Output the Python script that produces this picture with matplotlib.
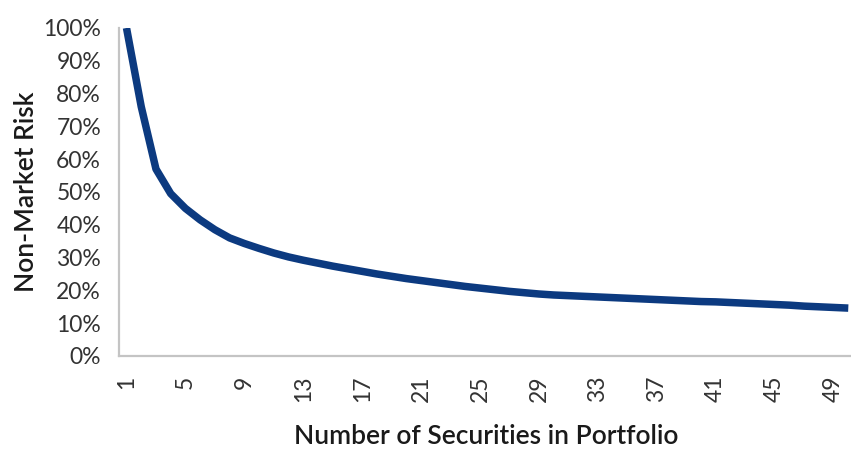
import matplotlib
matplotlib.use("Agg")
import matplotlib.pyplot as plt
from matplotlib.ticker import FuncFormatter

securities = list(range(1, 51))
risk_pct = [100, 76, 57, 49.5, 45, 41.5, 38.5, 36, 34.3, 32.8,
            31.4, 30.2, 29.2, 28.3, 27.4, 26.6, 25.8, 25.0, 24.3, 23.6,
            23.0, 22.4, 21.8, 21.2, 20.7, 20.2, 19.7, 19.3, 18.9, 18.6,
            18.4, 18.2, 18.0, 17.8, 17.6, 17.4, 17.2, 17.0, 16.8, 16.6,
            16.5, 16.3, 16.1, 15.9, 15.7, 15.5, 15.2, 15.0, 14.8, 14.6]
x_ticks = list(range(1, 51, 4))
y_ticks = list(range(0, 101, 10))

plt.rcParams['font.family'] = ['Lato', 'DejaVu Sans']

fig = plt.figure(figsize=(8.51, 4.55), dpi=100)
ax = fig.add_axes([0.140, 0.2176, 0.862, 0.7209])

ax.plot(securities, risk_pct, color='#0c3a80', lw=5.4, solid_capstyle='butt',
        solid_joinstyle='round')

ax.set_xlim(0.5, 50.3)
ax.set_ylim(0, 100)
ax.set_yticks(y_ticks)
ax.yaxis.set_major_formatter(FuncFormatter(lambda v, p: f"{int(v)}%"))
ax.set_xticks(x_ticks)
ax.set_xticklabels([str(t) for t in x_ticks], rotation=90, va='top', ha='center')

for s in ['top', 'right']:
    ax.spines[s].set_visible(False)
for s in ['left', 'bottom']:
    ax.spines[s].set_color('#c4c4c4')
    ax.spines[s].set_linewidth(1.6)

ax.tick_params(axis='both', length=0, labelsize=16.5, labelcolor='#333333')
ax.tick_params(axis='y', pad=13)
ax.tick_params(axis='x', pad=14)

ax.set_ylabel('Non-Market Risk', fontsize=19, color='#1a1a1a', labelpad=3,
              fontweight='semibold')
ax.set_xlabel('Number of Securities in Portfolio', fontsize=19, color='#1a1a1a',
              labelpad=16, fontweight='semibold')

fig.savefig('out.png', dpi=100)
